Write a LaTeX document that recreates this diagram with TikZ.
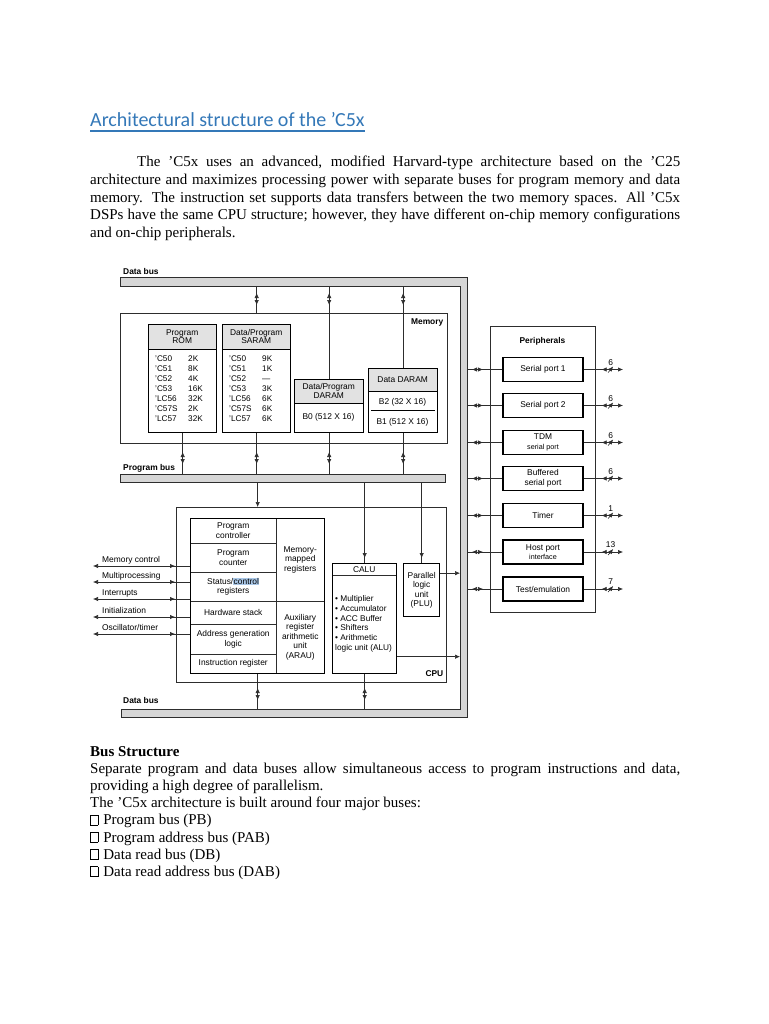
\documentclass[tikz,border=0pt]{standalone}
\usepackage{fontspec}
\setmainfont{Liberation Serif}
\setsansfont{Liberation Sans}
\newfontfamily\headfont{Carlito}
\usetikzlibrary{arrows.meta,decorations.markings}
\definecolor{headblue}{RGB}{52,120,184}
\definecolor{busgray}{RGB}{214,214,214}
\definecolor{hdrgray}{RGB}{226,226,226}
\definecolor{selblue}{RGB}{170,200,232}
\definecolor{ink}{RGB}{45,45,45}
\newcommand{\missbox}{\raisebox{0pt}{\fboxsep=0pt\fboxrule=0.6pt\fbox{\rule{0pt}{9.5pt}\hspace{7pt}}}\hspace{5pt}}
\tikzset{
  body/.style={font=\fontsize{15}{17}\selectfont, inner sep=0, anchor=base west},
  lbl/.style={font=\sffamily\fontsize{8.4}{9.5}\selectfont, align=center, inner sep=0},
  blbl/.style={font=\sffamily\bfseries\fontsize{8.4}{9.5}\selectfont, inner sep=0},
  frame/.style={draw=ink, line width=0.5pt, inner sep=0},
  blk/.style={draw=black, line width=1.3pt, inner sep=0, font=\sffamily\fontsize{8.4}{9.5}\selectfont, align=center},
  hdr/.style={fill=hdrgray, inner sep=0, align=center, anchor=north west, font=\sffamily\fontsize{8.4}{8.5}\selectfont},
  cell/.style={draw=ink, line width=0.5pt, inner sep=0, align=center, anchor=north west, font=\sffamily\fontsize{8.4}{9.5}\selectfont},
  wire/.style={draw=ink, line width=0.6pt},
  busio/.style 2 args={wire, postaction={decorate}, decoration={markings, mark=at position #1 with {\arrowreversed{>}}, mark=at position #2 with {\arrow{>}}}},
  midin/.style={wire, postaction={decorate}, decoration={markings, mark=at position -5pt with {\arrow{>}}}},
  sig/.style={wire, <-, postaction={decorate}, decoration={markings, mark=at position -15pt with {\arrow{>}}}},
  pout/.style={wire, ->, postaction={decorate}, decoration={markings, mark=at position 18pt with {\arrowreversed{>}}, mark=at position 27pt with {\draw[line width=0.6pt] (-2.5pt,-3pt) -- (2.5pt,3pt); \node[lbl, above=4pt] {#1};}}},
}
\begin{document}
\begin{tikzpicture}[x=1pt,y=-1pt,>={Latex[length=5pt,width=4.4pt]}]
\fill[white] (0,0) rectangle (768,1024);
\useasboundingbox (0,0) rectangle (768,1024);
% title
\node[anchor=base west, inner sep=0, font=\headfont\fontsize{20}{24}\selectfont, text=headblue] (title) at (90,126.5) {Architectural structure of the ’C5x};
\coordinate (uline) at (0,131);
\draw[headblue, line width=1.2pt] (title.west |- uline) -- (title.east |- uline);
% paragraph
\node[body] (par1) at (137,166.5) {\makebox[543pt][s]{The ’C5x uses an advanced, modified Harvard-type architecture based on the ’C25}};
\node[body] (par2) at (90,184.3) {\makebox[590pt][s]{architecture and maximizes processing power with separate buses for program memory and data}};
\node[body] (par3) at (90,202.1) {\makebox[590pt][s]{memory. The instruction set supports data transfers between the two memory spaces. All ’C5x}};
\node[body] (par4) at (90,219.9) {\makebox[590pt][s]{DSPs have the same CPU structure; however, they have different on-chip memory configurations}};
\node[body] (par5) at (90,237.7) {and on-chip peripherals.};

% data bus
\draw[fill=busgray, draw=ink, line width=0.6pt] (120,277) -- (467,277) -- (467,717) -- (121,717) -- (121,709) -- (460,709) -- (460,286) -- (120,286) -- cycle;
\coordinate (dtop) at (0,286);
\coordinate (dbot) at (0,709);
\coordinate (dbr) at (460,0);
\coordinate (dright) at (467,0);
\node[blbl, anchor=base west] (dbus1) at (123,274) {Data bus};
\node[blbl, anchor=base west] (dbus2) at (123,703) {Data bus};

% program bus
\node[fill=busgray, draw=ink, line width=0.6pt, inner sep=0, anchor=north west, minimum width=325pt, minimum height=8pt] (pbus) at (120,474) {};
\node[blbl, anchor=base west] (pbusl) at (123,470) {Program bus};

% memory
\node[frame, anchor=north west, minimum width=327pt, minimum height=130pt] (mem) at (120,313) {};
\node[blbl, anchor=north east] (meml) at ([xshift=-4pt,yshift=-6pt]mem.north east) {Memory};
\node[hdr, minimum width=68pt, minimum height=25pt] (romh) at (148,324) {Program\\ROM};
\draw[line width=0.5pt] (romh.south west) -- (romh.south east);
\node[blk, anchor=north west, minimum width=68pt, minimum height=108pt] (rom) at (148,324) {};
\node[lbl, anchor=north west, align=left, font=\sffamily\fontsize{8.2}{10}\selectfont] (romt) at (155,354) {\begin{tabular}{@{}p{33pt}@{}l@{}}’C50&2K\\’C51&8K\\’C52&4K\\’C53&16K\\’LC56&32K\\’C57S&2K\\’LC57&32K\end{tabular}};
\node[hdr, minimum width=68pt, minimum height=25pt] (saramh) at (222,324) {Data/Program\\SARAM};
\draw[line width=0.5pt] (saramh.south west) -- (saramh.south east);
\node[blk, anchor=north west, minimum width=68pt, minimum height=108pt] (saram) at (222,324) {};
\node[lbl, anchor=north west, align=left, font=\sffamily\fontsize{8.2}{10}\selectfont] (saramt) at (229,354) {\begin{tabular}{@{}p{33pt}@{}l@{}}’C50&9K\\’C51&1K\\’C52&---\\’C53&3K\\’LC56&6K\\’C57S&6K\\’LC57&6K\end{tabular}};
\node[hdr, minimum width=69pt, minimum height=24pt] (daramh) at (294,379) {Data/Program\\DARAM};
\draw[line width=0.5pt] (daramh.south west) -- (daramh.south east);
\node[blk, anchor=north west, minimum width=69pt, minimum height=53pt] (daram) at (294,379) {};
\node[lbl] (b0) at (328.5,417) {B0 (512 X 16)};
\node[hdr, minimum width=69pt, minimum height=23pt] (ddaramh) at (368,368) {Data DARAM};
\draw[line width=0.5pt] (ddaramh.south west) -- (ddaramh.south east);
\node[blk, anchor=north west, minimum width=69pt, minimum height=64pt] (ddaram) at (368,368) {};
\node[lbl] (b2) at (402.5,402) {B2 (32 X 16)};
\node[lbl] (b1) at (402.5,422) {B1 (512 X 16)};
\draw[line width=0.6pt] ([xshift=3pt]ddaram.west |- 0,410) -- ([xshift=-3pt]ddaram.east |- 0,410);
% memory <-> buses
\draw[busio={7pt}{19pt}] (saram.north |- dtop) -- (saram.north |- mem.north);
\draw[busio={7pt}{19pt}] (daram.north |- dtop) -- (daram.north);
\draw[busio={7pt}{19pt}] (ddaram.north |- dtop) -- (ddaram.north);
\draw[busio={10pt}{22pt}] (rom.south |- pbus.north) -- (rom.south);
\draw[busio={10pt}{22pt}] (saram.south |- pbus.north) -- (saram.south);
\draw[busio={10pt}{22pt}] (daram.south |- pbus.north) -- (daram.south);
\draw[busio={10pt}{22pt}] (ddaram.south |- pbus.north) -- (ddaram.south);

% CPU
\node[frame, anchor=north west, minimum width=270pt, minimum height=175pt] (cpu) at (176,507) {};
\node[blbl, anchor=south east] (cpul) at ([xshift=-3pt,yshift=6pt]cpu.south east) {CPU};
\node[cell, minimum width=86pt, minimum height=25pt] (pctl) at (190,518) {Program\\controller};
\node[cell, minimum width=86pt, minimum height=29pt] (pcnt) at (190,543) {Program\\counter};
\node[cell, minimum width=86pt, minimum height=29pt] (stat) at (190,572) {Status/{\fboxsep=0.4pt\colorbox{selblue}{control}}\\registers};
\node[cell, minimum width=48pt, minimum height=83pt] (mmr) at (276,518) {Memory-\\mapped\\registers};
\node[cell, minimum width=86pt, minimum height=23pt] (hws) at (190,601) {Hardware stack};
\node[cell, minimum width=86pt, minimum height=30pt] (agl) at (190,624) {Address generation\\logic};
\node[cell, minimum width=86pt, minimum height=19pt] (ireg) at (190,654) {Instruction register};
\node[cell, minimum width=48pt, minimum height=72pt] (arau) at (276,601) {Auxiliary\\register\\arithmetic\\unit\\(ARAU)};
\node[blk, anchor=north west, minimum width=134pt, minimum height=155pt] (core) at (190,518) {};
\node[cell, minimum width=64pt, minimum height=12pt] (caluh) at (332,563) {CALU};
\node[blk, anchor=north west, minimum width=64pt, minimum height=110pt] (calu) at (332,563) {};
\node[lbl, anchor=north west, align=left, font=\sffamily\fontsize{8.3}{9.9}\selectfont] (calut) at (335,595) {\textbullet\ Multiplier\\\textbullet\ Accumulator\\\textbullet\ ACC Buffer\\\textbullet\ Shifters\\\textbullet\ Arithmetic\\logic unit (ALU)};
\node[blk, anchor=north west, minimum width=36pt, minimum height=53pt] (plu) at (403,563) {Parallel\\logic\\unit\\(PLU)};
% CPU <-> buses
\draw[wire,->] (core.north |- pbus.south) -- (core.north |- cpu.north);
\draw[midin] (calu.north |- pbus.south) -- (calu.north);
\draw[midin] (plu.north |- pbus.south) -- (plu.north);
\draw[busio={9pt}{21pt}] (core.south |- dbot) -- (core.south);
\draw[busio={9pt}{21pt}] (calu.south |- dbot) -- (calu.south);
\coordinate (pluo) at ([yshift=17pt]plu.east);
\coordinate (caluo) at ([yshift=-38pt]calu.east);
\draw[wire,->] (pluo) -- (pluo -| dbr);
\draw[wire,->] (caluo) -- (caluo -| dbr);
% external CPU signals
\coordinate (memctl) at (93,566);
\coordinate (mproc) at (93,582);
\coordinate (intr) at (93,599);
\coordinate (init) at (93,617);
\coordinate (osc) at (93,634);
\draw[sig] (memctl) -- (core.west |- memctl);
\draw[sig] (mproc) -- (core.west |- mproc);
\draw[sig] (intr) -- (core.west |- intr);
\draw[sig] (init) -- (core.west |- init);
\draw[sig] (osc) -- (core.west |- osc);
\node[lbl, anchor=base west] (memctll) at (102,562) {Memory control};
\node[lbl, anchor=base west] (mprocl) at (102,578) {Multiprocessing};
\node[lbl, anchor=base west] (intrl) at (102,595) {Interrupts};
\node[lbl, anchor=base west] (initl) at (102,613) {Initialization};
\node[lbl, anchor=base west] (oscl) at (102,630) {Oscillator/timer};

% peripherals
\node[frame, anchor=north west, minimum width=105pt, minimum height=286pt] (peri) at (490,326) {};
\node[blbl] (peril) at (542.5,341) {Peripherals};
\node[blk, minimum width=80pt, minimum height=24pt] (sp1) at (543,369.5) {Serial port 1};
\node[blk, minimum width=80pt, minimum height=24pt] (sp2) at (543,405.5) {Serial port 2};
\node[blk, minimum width=80pt, minimum height=24pt] (tdm) at (543,442.5) {TDM\\{\fontsize{7.2}{8}\selectfont serial port}};
\node[blk, minimum width=80pt, minimum height=24pt] (bsp) at (543,478.5) {Buffered\\serial port};
\node[blk, minimum width=80pt, minimum height=24pt] (tmr) at (543,515.5) {Timer};
\node[blk, minimum width=80pt, minimum height=24pt] (hpi) at (543,552) {Host port\\{\fontsize{7.2}{8}\selectfont interface}};
\node[blk, minimum width=80pt, minimum height=24pt] (temu) at (543,589) {Test/emulation};
\coordinate (pend) at (623,0);
\draw[busio={5pt}{16pt}] (sp1.west -| dright) -- (sp1.west);
\draw[busio={5pt}{16pt}] (sp2.west -| dright) -- (sp2.west);
\draw[busio={5pt}{16pt}] (tdm.west -| dright) -- (tdm.west);
\draw[busio={5pt}{16pt}] (bsp.west -| dright) -- (bsp.west);
\draw[busio={5pt}{16pt}] (tmr.west -| dright) -- (tmr.west);
\draw[busio={5pt}{16pt}] (hpi.west -| dright) -- (hpi.west);
\draw[busio={5pt}{16pt}] (temu.west -| dright) -- (temu.west);
\draw[pout=6] (sp1.east) -- (sp1.east -| pend);
\draw[pout=6] (sp2.east) -- (sp2.east -| pend);
\draw[pout=6] (tdm.east) -- (tdm.east -| pend);
\draw[pout=6] (bsp.east) -- (bsp.east -| pend);
\draw[pout=1] (tmr.east) -- (tmr.east -| pend);
\draw[pout=13] (hpi.east) -- (hpi.east -| pend);
\draw[pout=7] (temu.east) -- (temu.east -| pend);

% bus structure text
\node[body, font=\bfseries\fontsize{15}{17}\selectfont] (bush) at (90,756) {Bus Structure};
\node[body] (bus1) at (90,773.2) {\makebox[590pt][s]{Separate program and data buses allow simultaneous access to program instructions and data,}};
\node[body] (bus2) at (90,790.4) {providing a high degree of parallelism.};
\node[body] (bus3) at (90,807.6) {The ’C5x architecture is built around four major buses:};
\node[body] (bus4) at (90,824.8) {\missbox Program bus (PB)};
\node[body] (bus5) at (90,842) {\missbox Program address bus (PAB)};
\node[body] (bus6) at (90,859.2) {\missbox Data read bus (DB)};
\node[body] (bus7) at (90,876.4) {\missbox Data read address bus (DAB)};
\end{tikzpicture}
\end{document}
